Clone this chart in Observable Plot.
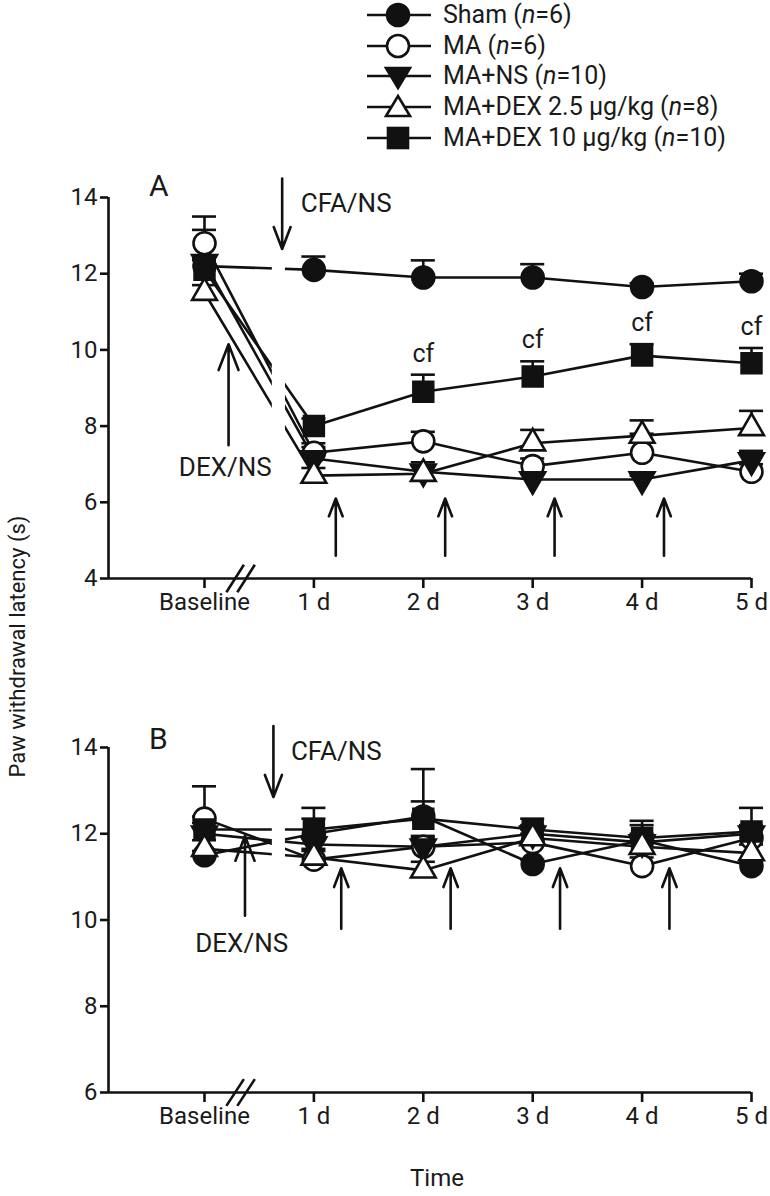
<!DOCTYPE html>
<html><head><meta charset="utf-8">
<script src="https://cdn.jsdelivr.net/npm/d3@7"></script>
<script src="https://cdn.jsdelivr.net/npm/@observablehq/plot@0.6"></script>
<style>
body{margin:0;background:#fff;}
#wrap{position:relative;width:770px;height:1196px;font-family:Roboto,sans-serif;color:#1a1a1a;background:#fff;overflow:hidden;}
.abs{position:absolute;white-space:nowrap;}
.leg{position:absolute;left:367px;height:28px;display:flex;align-items:center;font-size:25px;line-height:28px;}
.leg span{margin-left:12px;}
</style></head><body><div id="wrap"></div>
<script>
// ---------- data ----------
const timeLabels = ["Baseline", "1 d", "2 d", "3 d", "4 d", "5 d"];
const timePoints = [0, 1, 2, 3, 4, 5];
const groups = ["Sham", "MA", "MA+NS", "MA+DEX 2.5", "MA+DEX 10"];
const legendLabels = ["Sham (<i>n</i>=6)", "MA (<i>n</i>=6)", "MA+NS (<i>n</i>=10)", "MA+DEX 2.5 μg/kg (<i>n</i>=8)", "MA+DEX 10 μg/kg (<i>n</i>=10)"];

// Panel A: mean and SEM (s)
const shamA = [12.2, 12.1, 11.9, 11.9, 11.65, 11.8];
const shamAerr = [0.15, 0.35, 0.45, 0.35, 0.1, 0.2];
const maA = [12.8, 7.3, 7.6, 6.95, 7.3, 6.8];
const maAerr = [0.35, 0.25, 0.25, 0.2, 0.5, 0.2];
const nsA = [12.3, 7.15, 6.8, 6.6, 6.6, 7.1];
const nsAerr = [1.2, 0.3, 0.25, 0.15, 0.1, 0.25];
const dex25A = [11.5, 6.7, 6.75, 7.55, 7.75, 7.95];
const dex25Aerr = [0.2, 0.2, 0.2, 0.35, 0.4, 0.45];
const dex10A = [12.1, 8.0, 8.9, 9.3, 9.85, 9.65];
const dex10Aerr = [0.3, 0.2, 0.45, 0.4, 0.3, 0.4];
const cfDays = [2, 3, 4, 5];

// Panel B: mean and SEM (s)
const shamB = [11.5, 12.0, 12.4, 11.3, 11.85, 11.25];
const shamBerr = [0.1, 0.35, 1.1, 0.1, 0.45, 0.1];
const maB = [12.35, 11.4, 11.7, 11.8, 11.25, 11.9];
const maBerr = [0.75, 0.2, 0.2, 0.2, 0.2, 0.2];
const nsB = [12.0, 11.75, 11.7, 12.0, 11.8, 12.0];
const nsBerr = [0.25, 0.2, 0.25, 0.2, 0.2, 0.2];
const dex25B = [11.65, 11.45, 11.15, 11.9, 11.7, 11.55];
const dex25Berr = [0.2, 0.2, 0.2, 0.2, 0.2, 0.2];
const dex10B = [12.1, 12.1, 12.35, 12.1, 11.9, 12.05];
const dex10Berr = [0.3, 0.5, 0.4, 0.25, 0.3, 0.55];

const injectionDays = [1, 2, 3, 4];
const yTicksA = [4, 6, 8, 10, 12, 14];
const yTicksB = [6, 8, 10, 12, 14];

// ---------- helpers ----------
const INK = "#111";
const SW = 2.6;
function triSymbol(dir) {
  return {draw(ctx, size) {
    const y = -Math.sqrt(size / (Math.sqrt(3) * 3)) * dir;
    ctx.moveTo(0, y * 2);
    ctx.lineTo(-Math.sqrt(3) * y, -y);
    ctx.lineTo(Math.sqrt(3) * y, -y);
    ctx.closePath();
  }};
}
const styleOf = {
  "Sham": {symbol: "circle", fill: INK, r: 11},
  "MA": {symbol: "circle", fill: "white", r: 11},
  "MA+NS": {symbol: triSymbol(-1), fill: INK, r: 9.2},
  "MA+DEX 2.5": {symbol: triSymbol(1), fill: "white", r: 9.2},
  "MA+DEX 10": {symbol: "square", fill: INK, r: 11.2}
};
const drawOrder = ["MA", "Sham", "MA+DEX 10", "MA+NS", "MA+DEX 2.5"];

function table(series) {
  const rows = [];
  groups.forEach((g, gi) => {
    const [v, e] = series[gi];
    timePoints.forEach((t, i) => rows.push({group: g, x: t, v: v[i], e: e[i]}));
  });
  return rows;
}

function panel(opt) {
  const rows = opt.rows;
  const ymin = opt.yDomain[0];
  const marks = [
    Plot.ruleY([ymin], {stroke: INK, strokeWidth: SW}),
    Plot.ruleX([opt.xDomain[0]], {stroke: INK, strokeWidth: SW}),
    Plot.axisY({ticks: opt.yTicks, tickSize: 8, tickPadding: 3, strokeWidth: SW, stroke: INK, fontSize: 24, label: null}),
    Plot.axisX({ticks: timePoints, tickFormat: i => timeLabels[i], tickSize: 10, tickPadding: 4, strokeWidth: SW, stroke: INK, fontSize: 24, label: null}),
    Plot.link([{a: 0.2, b: 0.36}, {a: 0.3, b: 0.46}], {x1: d => d.a, x2: d => d.b, y1: ymin - opt.breakDy, y2: ymin + opt.breakDy, stroke: INK, strokeWidth: SW}),
    Plot.line(rows, {x: "x", y: "v", z: "group", stroke: INK, strokeWidth: SW}),
    Plot.rect([{a: 0.62, b: 0.74}], {x1: d => d.a, x2: d => d.b, y1: opt.gapY[0], y2: opt.gapY[1], fill: "white"}),
    Plot.ruleX(rows, {x: "x", y1: "v", y2: d => d.v + d.e, stroke: INK, strokeWidth: SW}),
    Plot.ruleY(rows, {y: d => d.v + d.e, x1: d => d.x - 0.11, x2: d => d.x + 0.11, stroke: INK, strokeWidth: SW})
  ];
  drawOrder.forEach(g => {
    const s = styleOf[g];
    marks.push(Plot.dot(rows.filter(d => d.group === g), {x: "x", y: "v", symbol: s.symbol, r: s.r, fill: s.fill, stroke: INK, strokeWidth: SW}));
  });
  // annotations
  marks.push(Plot.arrow([opt.cfa], {x1: d => d.x, x2: d => d.x, y1: d => d.y1, y2: d => d.y2, stroke: INK, strokeWidth: SW, headLength: 16, headAngle: 42}));
  marks.push(Plot.text([opt.cfa], {x: d => d.tx, y: d => d.ty, text: () => "CFA/NS", textAnchor: "start", fontSize: 26, fill: "#1a1a1a"}));
  marks.push(Plot.arrow([opt.dex], {x1: d => d.x, x2: d => d.x, y1: d => d.y1, y2: d => d.y2, stroke: INK, strokeWidth: SW, headLength: 16, headAngle: 42}));
  marks.push(Plot.text([opt.dex], {x: d => d.tx, y: d => d.ty, text: () => "DEX/NS", fontSize: 26, fill: "#1a1a1a"}));
  marks.push(Plot.arrow(injectionDays, {x1: d => d + opt.injOffset, x2: d => d + opt.injOffset, y1: opt.inj[0], y2: opt.inj[1], stroke: INK, strokeWidth: SW, headLength: 16, headAngle: 42}));
  if (opt.cf) {
    const cfRows = rows.filter(d => d.group === "MA+DEX 10" && cfDays.includes(d.x));
    marks.push(Plot.text(cfRows, {x: "x", y: d => d.v + d.e, dy: -21, text: () => "cf", fontSize: 25, fill: "#1a1a1a"}));
  }
  const svg = Plot.plot({
    width: 770, height: opt.height,
    marginLeft: 108, marginRight: 19, marginTop: opt.mTop, marginBottom: opt.mBottom,
    x: {domain: opt.xDomain, axis: null},
    y: {domain: opt.yDomain, axis: null},
    style: {fontFamily: "Roboto, sans-serif", fontSize: "24px", color: "#1a1a1a", background: "transparent", overflow: "visible"},
    marks
  });
  svg.style.position = "absolute";
  svg.style.left = "0px";
  svg.style.top = opt.top + "px";
  return svg;
}

const wrap = document.getElementById("wrap");
const xDomain = [-0.8775, 5];

const rowsA = table([[shamA, shamAerr], [maA, maAerr], [nsA, nsAerr], [dex25A, dex25Aerr], [dex10A, dex10Aerr]]);
const rowsB = table([[shamB, shamBerr], [maB, maBerr], [nsB, nsBerr], [dex25B, dex25Berr], [dex10B, dex10Berr]]);

wrap.appendChild(panel({
  rows: rowsA, yDomain: [4, 14], yTicks: yTicksA, xDomain,
  top: 150, height: 480, mTop: 47, mBottom: 52, breakDy: 0.36, gapY: [5, 13.6],
  cfa: {x: 0.71, y1: 14.5, y2: 12.65, tx: 0.88, ty: 13.85},
  dex: {x: 0.22, y1: 7.5, y2: 10.15, tx: 0.19, ty: 6.9},
  injOffset: 0.2, inj: [4.6, 6.1], cf: true
}));
wrap.appendChild(panel({
  rows: rowsB, yDomain: [6, 14], yTicks: yTicksB, xDomain,
  top: 690, height: 450, mTop: 57, mBottom: 48, breakDy: 0.31, gapY: [10.8, 13.2],
  cfa: {x: 0.63, y1: 14.5, y2: 12.85, tx: 0.79, ty: 13.9},
  dex: {x: 0.37, y1: 10.1, y2: 11.95, tx: 0.34, ty: 9.45},
  injOffset: 0.25, inj: [9.8, 11.2], cf: false
}));

// legend
const legendY = [15, 46, 76, 107, 138];
const legSym = {
  "Sham": `<circle cx="31" cy="14" r="11" fill="${INK}" stroke="${INK}" stroke-width="${SW}"/>`,
  "MA": `<circle cx="31" cy="14" r="11" fill="white" stroke="${INK}" stroke-width="${SW}"/>`,
  "MA+NS": `<path d="M19,6 L43,6 L31,26 Z" fill="${INK}" stroke="${INK}" stroke-width="${SW}"/>`,
  "MA+DEX 2.5": `<path d="M19,23 L43,23 L31,3 Z" fill="white" stroke="${INK}" stroke-width="${SW}"/>`,
  "MA+DEX 10": `<rect x="21" y="4" width="20" height="20" fill="${INK}" stroke="${INK}" stroke-width="${SW}"/>`
};
groups.forEach((g, i) => {
  const d = document.createElement("div");
  d.className = "leg";
  d.style.top = (legendY[i] - 14) + "px";
  d.innerHTML = `<svg width="64" height="28" style="overflow:visible"><line x1="0" x2="64" y1="14" y2="14" stroke="${INK}" stroke-width="${SW}"/>${legSym[g]}</svg><span>${legendLabels[i]}</span>`;
  wrap.appendChild(d);
});

function label(text, css) {
  const d = document.createElement("div");
  d.className = "abs";
  d.textContent = text;
  Object.assign(d.style, css);
  wrap.appendChild(d);
}
label("A", {left: "149px", top: "168px", fontSize: "30px"});
label("B", {left: "149px", top: "721px", fontSize: "30px"});
label("Time", {left: "337px", width: "200px", textAlign: "center", top: "1164px", fontSize: "24px"});
label("Paw withdrawal latency (s)", {left: "-183px", width: "400px", textAlign: "center", top: "634px", fontSize: "22px", transform: "rotate(-90deg)"});
</script></body></html>
